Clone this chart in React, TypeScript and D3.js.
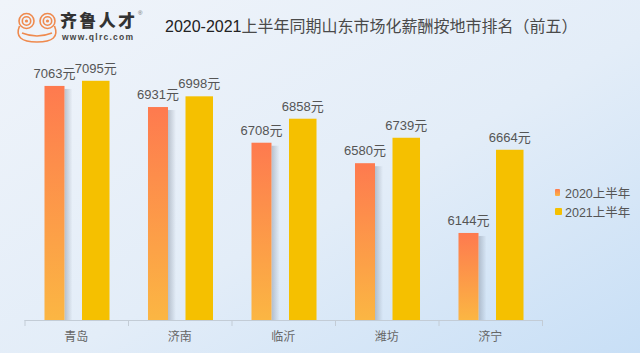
import * as d3 from 'd3';
import React from 'react';

const cities = ['青岛', '济南', '临沂', '潍坊', '济宁'];
const series = ['2020上半年', '2021上半年'];
const values2020 = [7063, 6931, 6708, 6580, 6144];
const values2021 = [7095, 6998, 6858, 6739, 6664];

const W = 640;
const H = 353;
const SANS = '"Liberation Sans", "Noto Sans CJK SC", sans-serif';

const App: React.FC = () => {
  const x = d3.scaleBand<string>().domain(cities).range([24.5, 542]).padding(0);
  const inner = d3.scaleBand<string>().domain(series).range([0, x.bandwidth()])
    .paddingInner(0.295).paddingOuter(0.474);
  const y = d3.scaleLinear().domain([5600, 7100]).range([320, 80]);
  const bw = inner.bandwidth();

  const rows = cities.map((c, i) => ({ city: c, v: [values2020[i], values2021[i]] }));

  return (
    <svg width={W} height={H} style={{ position: 'absolute', left: 0, top: 0 }}>
      <defs>
        <linearGradient id="bg" x1="0" y1="0" x2="1" y2="1">
          <stop offset="0%" stopColor="#f0f4fa" />
          <stop offset="55%" stopColor="#e3edf8" />
          <stop offset="100%" stopColor="#c8dff6" />
        </linearGradient>
        <linearGradient id="g2020" x1="0" y1="0" x2="0" y2="1">
          <stop offset="0%" stopColor="#fe7a4f" />
          <stop offset="100%" stopColor="#fbb643" />
        </linearGradient>
        <linearGradient id="shadow" x1="0" y1="0" x2="1" y2="0">
          <stop offset="0%" stopColor="#7d8796" stopOpacity={0.45} />
          <stop offset="100%" stopColor="#7d8796" stopOpacity={0} />
        </linearGradient>
      </defs>
      <rect width={W} height={H} fill="url(#bg)" />

      {/* logo */}
      <g fill="none" stroke="#ef8a4e" strokeWidth={1.6}>
        <circle cx={26.5} cy={21} r={7.5} />
        <circle cx={26.5} cy={21} r={4.2} />
        <circle cx={47.5} cy={21} r={7.5} />
        <circle cx={47.5} cy={21} r={4.2} />
        <path d="M19.5,26 Q13,42 37,42 Q61,42 54.5,26" />
        <path d="M22,33 Q37,39 52,33" />
      </g>
      <circle cx={26.5} cy={21} r={1.6} fill="#ef8a4e" />
      <circle cx={47.5} cy={21} r={1.6} fill="#ef8a4e" />
      <text x={60} y={27} fontFamily='"Noto Sans CJK SC", sans-serif' fontWeight={900} fontSize={17} fill="#333"
        textLength={75}>齐鲁人才</text>
      <text x={138} y={15} fontFamily={SANS} fontSize={6} fill="#666">®</text>
      <text x={62} y={40} fontFamily={SANS} fontWeight="bold" fontSize={8.5} fill="#444" textLength={71}>www.qlrc.com</text>

      {/* title */}
      <text x={165} y={32} fontSize={16} fill="#222">
        <tspan fontFamily={SANS}>2020-2021</tspan>
        <tspan fontFamily='"Noto Sans CJK SC", sans-serif' fill="#4a4a4a">上半年同期山东市场化薪酬按地市排名（前五）</tspan>
      </text>

      {/* bars */}
      {rows.map((r) => {
        const x0 = x(r.city) ?? 0;
        const xa = x0 + (inner(series[0]) ?? 0) + 1.5;
        const xb = x0 + (inner(series[1]) ?? 0);
        const wa = bw - 7.5;
        return (
          <g key={r.city}>
            <rect x={xa + wa} y={y(r.v[0]) + 3} width={8} height={y.range()[0] - y(r.v[0]) - 3} fill="url(#shadow)" />
            <rect x={xa} y={y(r.v[0])} width={wa} height={y.range()[0] - y(r.v[0])} fill="url(#g2020)" />
            <rect x={xb} y={y(r.v[1])} width={bw} height={y.range()[0] - y(r.v[1])} fill="#f5c000" />
            <text x={xa + wa / 2} y={y(r.v[0]) - 8} textAnchor="middle" fontFamily={SANS} fontSize={13} fill="#555">
              {r.v[0]}元
            </text>
            <text x={xb + bw / 2} y={y(r.v[1]) - 8} textAnchor="middle" fontFamily={SANS} fontSize={13} fill="#555">
              {r.v[1]}元
            </text>
          </g>
        );
      })}

      {/* x axis */}
      <line x1={x.range()[0]} x2={x.range()[1]} y1={320.5} y2={320.5} stroke="#c3ccd6" />
      {[...cities.map((c) => x(c) ?? 0), x.range()[1]].map((t, i) => (
        <line key={i} x1={t + 0.5} x2={t + 0.5} y1={320} y2={326} stroke="#c3ccd6" />
      ))}
      {cities.map((c) => (
        <text key={c} x={(x(c) ?? 0) + x.bandwidth() / 2} y={341} textAnchor="middle"
          fontFamily='"Noto Sans CJK SC", sans-serif' fontSize={12} fill="#666">{c}</text>
      ))}

      {/* legend */}
      <rect x={555} y={189} width={5} height={7} rx={1} fill="url(#g2020)" />
      <text x={565} y={198} fontFamily={SANS} fontSize={12.5} fill="#555">{series[0]}</text>
      <rect x={555} y={208} width={7} height={7} rx={1} fill="#f5c000" />
      <text x={565} y={217} fontFamily={SANS} fontSize={12.5} fill="#555">{series[1]}</text>
    </svg>
  );
};

export default App;
